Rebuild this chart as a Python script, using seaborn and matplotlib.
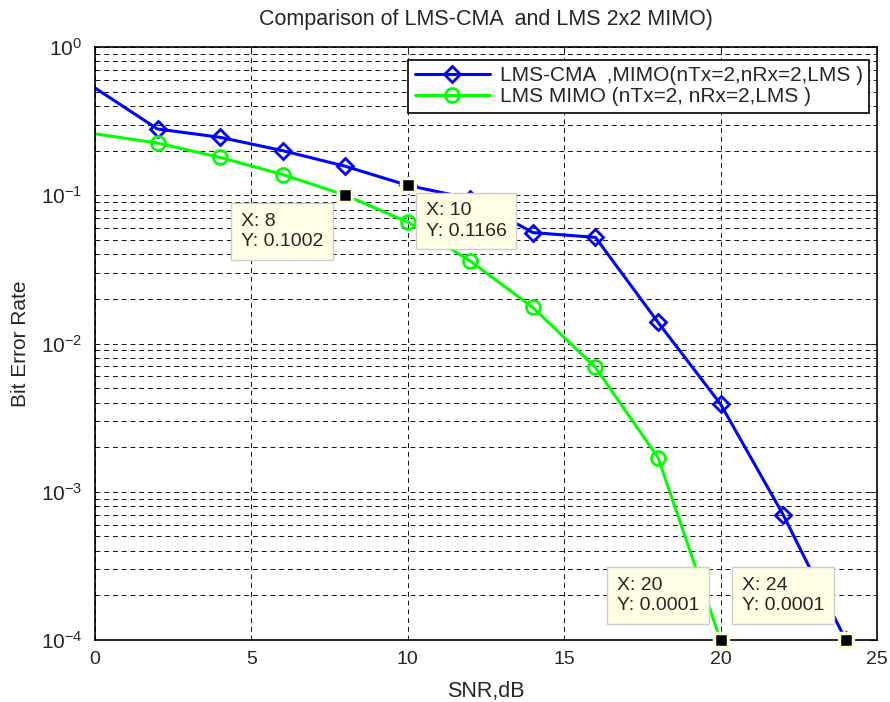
import numpy as np
import pandas as pd
import matplotlib
matplotlib.use('Agg')
import matplotlib.pyplot as plt
import seaborn as sns

# SNR points (dB)
snr = [0, 2, 4, 6, 8, 10, 12, 14, 16, 18, 20, 22, 24]
ber_cma = [0.53, 0.28, 0.246, 0.20, 0.157, 0.1166, 0.095, 0.056, 0.052, 0.0139, 0.0039, 0.0007, 0.0001]
snr_lms = [0, 2, 4, 6, 8, 10, 12, 14, 16, 18, 20]
ber_lms = [0.26, 0.225, 0.18, 0.138, 0.1002, 0.066, 0.036, 0.0175, 0.0069, 0.0017, 0.0001]

label_cma = 'LMS-CMA  ,MIMO(nTx=2,nRx=2,LMS )'
label_lms = 'LMS MIMO (nTx=2, nRx=2,LMS )'

# data tips shown in the figure
tip_x = [8, 10, 20, 24]
tip_y = [0.1002, 0.1166, 0.0001, 0.0001]
tip_text = ['X: 8\nY: 0.1002', 'X: 10\nY: 0.1166', 'X: 20\nY: 0.0001', 'X: 24\nY: 0.0001']

sns.set_style('white')
plt.rcParams['font.family'] = ['Liberation Sans', 'DejaVu Sans']

df_cma = pd.DataFrame({'snr': snr, 'ber': ber_cma})
df_lms = pd.DataFrame({'snr': snr_lms, 'ber': ber_lms})

fig = plt.figure(figsize=(8.9, 7.02), dpi=100)
ax = fig.add_axes([0.1067, 0.0883, 0.8787, 0.8447])

sns.lineplot(data=df_cma, x='snr', y='ber', ax=ax, color='#0000ff', lw=2.2,
             marker='D', markersize=8, markerfacecolor='none', markeredgecolor='#0000ff',
             markeredgewidth=2, markevery=list(range(1, len(snr))), label=label_cma)
sns.lineplot(data=df_lms, x='snr', y='ber', ax=ax, color='#00ff00', lw=2.2,
             marker='o', markersize=10, markerfacecolor='none', markeredgecolor='#00ff00',
             markeredgewidth=2, markevery=list(range(1, len(snr_lms))), label=label_lms)

ax.set_yscale('log')
ax.set_xlim(0, 25)
ax.set_ylim(1e-4, 1)
ax.set_xticks([0, 5, 10, 15, 20, 25])

# matlab style dashed grid
ax.grid(True, which='major', axis='both', ls=(0, (5, 4)), color='#111111', lw=0.7)
ax.grid(True, which='minor', axis='y', ls=(0, (5, 4)), color='#111111', lw=0.7)
ax.tick_params(which='both', direction='in', top=True, right=True)
ax.tick_params(axis='x', labelsize=14, pad=8)
ax.tick_params(axis='y', labelsize=15, pad=9)
ax.tick_params(which='major', length=5)
ax.tick_params(which='minor', length=3)
for s in ax.spines.values():
    s.set_color('black')
    s.set_linewidth(1.2)

ax.set_title('Comparison of LMS-CMA  and LMS 2x2 MIMO)', fontsize=15.5, pad=16)
ax.set_xlabel('SNR,dB', fontsize=15.5, labelpad=9)
ax.set_ylabel('Bit Error Rate', fontsize=15, labelpad=8)

leg = ax.legend(loc='upper right', bbox_to_anchor=(0.99, 0.978), borderaxespad=0,
                fancybox=False, framealpha=1, edgecolor='black', fontsize=15,
                handlelength=3.6, handletextpad=0.5, borderpad=0.3, labelspacing=0.1)
leg.get_frame().set_linewidth(1.2)

# data tips
offsets = [(-104, -18), (18, -17), (-104, 63), (-104, 63)]
for x, y, t, off in zip(tip_x, tip_y, tip_text, offsets):
    ax.plot([x], [y], marker='s', ms=10, mfc='black', mec='#ffffe0', mew=2.5,
            clip_on=False, zorder=6)
    ax.annotate(t, xy=(x, y), xytext=off, textcoords='offset pixels',
                ha='left', va='top', fontsize=14, linespacing=1.25, zorder=7,
                bbox=dict(boxstyle='square,pad=0.5', fc='#ffffe6', ec='#cccccc', lw=1))

fig.savefig('out.png', dpi=100)
